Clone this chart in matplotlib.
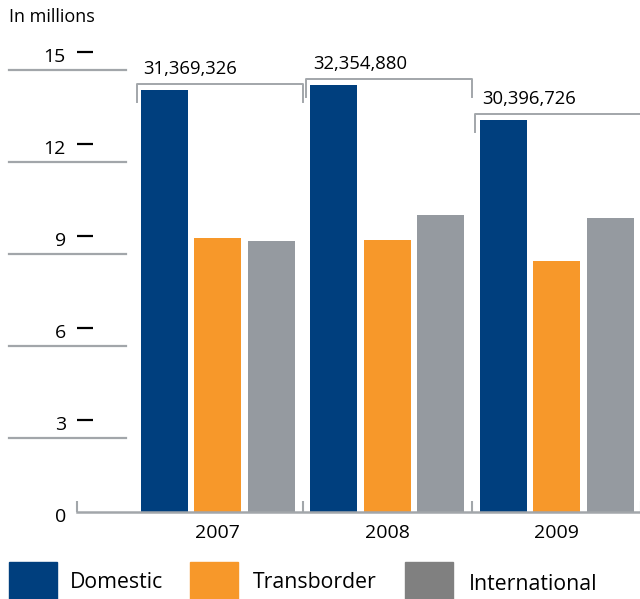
import matplotlib
matplotlib.use("Agg")
import numpy as np
import matplotlib.pyplot as plt
from matplotlib import transforms
from matplotlib.patches import Rectangle

# Passenger traffic, in millions
years = ["2007", "2008", "2009"]
series = ["Domestic", "Transborder", "International"]
domestic = [13.76, 13.92, 12.78]
transborder = [8.93, 8.87, 8.18]
international = [8.84, 9.68, 9.59]
totals = ["31,369,326", "32,354,880", "30,396,726"]
yticks = [0, 3, 6, 9, 12, 15]

BLUE = "#003f7e"
ORANGE = "#f7982a"
GREY = "#959aa0"
LINE = "#a2a6aa"
LEGEND_GREY = "#808080"

plt.rcParams["font.family"] = ["Open Sans", "DejaVu Sans"]

W, H = 640, 599
fig = plt.figure(figsize=(W / 100, H / 100), dpi=100)

# axes in pixel terms: x 77..643, y 52 (15) .. 512 (0)
ax_l, ax_r, ax_b, ax_t = 77, 643, 512, 52
ax = fig.add_axes([ax_l / W, (H - ax_b) / H, (ax_r - ax_l) / W, (ax_b - ax_t) / H])

x = np.arange(len(years))
bw, step = 0.277, 0.316
ax.bar(x - step, domestic, bw, color=BLUE, zorder=2)
ax.bar(x, transborder, bw, color=ORANGE, zorder=2)
ax.bar(x + step, international, bw, color=GREY, zorder=2)

ax.set_xlim(-0.832, 2.51)
ax.set_ylim(0, 15)

for s in ("top", "right", "left"):
    ax.spines[s].set_visible(False)
ax.spines["bottom"].set_color(LINE)
ax.spines["bottom"].set_linewidth(1.8)

# x: year labels, plus small separator ticks between groups
ax.set_xticks(x)
ax.set_xticklabels(years, fontsize=14)
ax.tick_params(axis="x", which="major", length=0, pad=9)
ax.set_xticks([-0.832] + list(x + 0.5), minor=True)
ax.tick_params(axis="x", which="minor", direction="in", length=8,
               width=1.5, color=LINE)

# y: labels with black dashes at the value
ax.set_yticks(yticks)
ax.set_yticklabels([str(v) for v in yticks], fontsize=14)
ax.tick_params(axis="y", direction="in", length=11.5, width=1.6,
               color="black", pad=8)
ax.yaxis.get_major_ticks()[0].tick1line.set_visible(False)
shift = transforms.ScaledTranslation(0, -2 / 72, fig.dpi_scale_trans)
for lab in ax.get_yticklabels():
    lab.set_transform(lab.get_transform() + shift)

# decorative grey rules under each y label
bt = transforms.blended_transform_factory(ax.transAxes, ax.transData)
axw = ax_r - ax_l
for v in yticks[1:]:
    ax.plot([(9 - ax_l) / axw, (126 - ax_l) / axw], [v - 0.59, v - 0.59],
            color=LINE, lw=1.6, transform=bt, clip_on=False)

# brackets with the yearly totals
for i, tot in enumerate(totals):
    yb = domestic[i] + 0.21
    ax.plot([i - 0.48, i - 0.48, i + 0.50, i + 0.50],
            [yb - 0.6, yb, yb, yb - 0.6],
            color=LINE, lw=1.4, clip_on=False, zorder=3)
    ax.text(i - 0.44, yb + 0.48, tot, fontsize=13.3, va="center", ha="left")

fig.text(9 / W, 1 - 17 / H, "In millions", fontsize=13, va="center", ha="left")

# legend drawn as boxes along the bottom edge
for name, col, bx, tx, ty in zip(series, [BLUE, ORANGE, LEGEND_GREY],
                                 [9, 190, 405], [70, 253, 469],
                                 [582, 582, 584]):
    fig.patches.append(Rectangle((bx / W, 0), 48 / W, (H - 562) / H,
                                 transform=fig.transFigure, color=col))
    fig.text(tx / W, 1 - ty / H, name, fontsize=15.3, va="center", ha="left")

fig.savefig("out.png", dpi=100)
